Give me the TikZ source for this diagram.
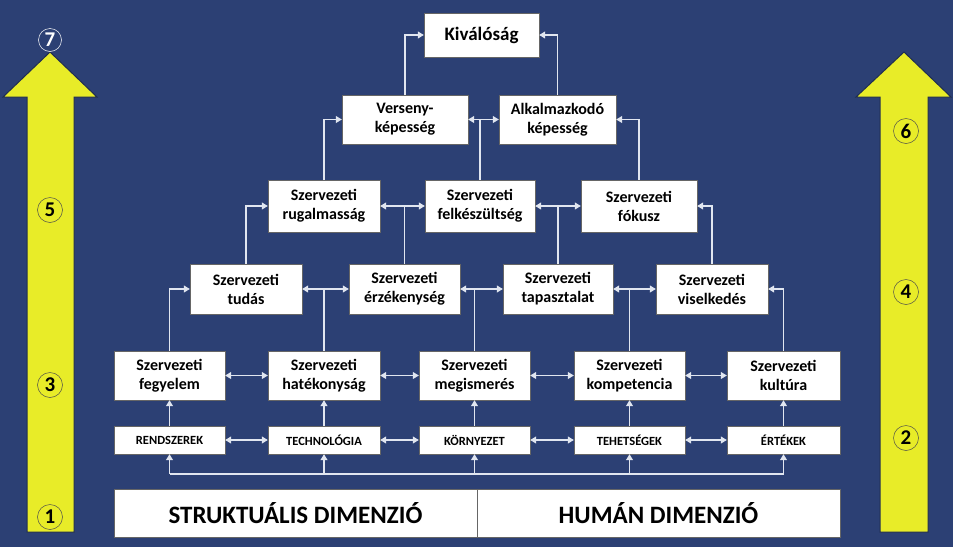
\documentclass[tikz,border=0pt]{standalone}
\usepackage{fontspec}
\setmainfont{Carlito}
\usetikzlibrary{arrows.meta}
\definecolor{bg}{RGB}{44,64,116}
\definecolor{yel}{RGB}{232,236,40}
\definecolor{ln}{RGB}{225,230,240}
\begin{document}
\begin{tikzpicture}[x=1pt,y=-1pt,
  bx/.style={draw=black!60,fill=white,font=\bfseries\fontsize{16}{19}\selectfont,align=center,inner sep=0pt,line width=0.4pt},
  sb/.style={draw=black!60,fill=white,font=\bfseries\fontsize{12.5}{14}\selectfont,inner sep=0pt,minimum height=28pt},
  cn/.style={line width=1.1pt,draw=ln},
  ar/.style={cn,-{Triangle[width=7pt,length=6pt]}},
  da/.style={cn,{Triangle[width=7pt,length=6pt]}-{Triangle[width=7pt,length=6pt]}},
  num/.style={circle,draw=black!70,line width=0.5pt,inner sep=1pt,minimum size=25pt,font=\bfseries\fontsize{21}{21}\selectfont}]
\fill[bg] (0,0) rectangle (953,547);
\useasboundingbox (0,0) rectangle (953,547);
% yellow arrows
\filldraw[fill=yel,draw=bg!70!black,line width=1pt] (27,532) -- (27,97) -- (3,97) -- (50,52) -- (97,97) -- (74,97) -- (74,532) -- cycle;
\filldraw[fill=yel,draw=bg!70!black,line width=1pt] (880,532) -- (880,97) -- (856,97) -- (904,52) -- (951,97) -- (928,97) -- (928,532) -- cycle;
\node[num,draw=white,text=white,minimum size=23pt] (n7) at (50,40) {7};
\node[num] (n5) at (50,210) {5};
\node[num] (n3) at (50,385) {3};
\node[num] (n1) at (50,517) {1};
\node[num] (n6) at (906,131) {6};
\node[num] (n4) at (906,292) {4};
\node[num] (n2) at (906,438) {2};
% boxes
\node[bx,minimum width=115pt,minimum height=44pt,font=\bfseries\fontsize{19}{21}\selectfont] (K) at (481.5,35) {Kiválóság};
\node[bx,minimum width=126pt,minimum height=49pt] (V) at (405,119.5) {Verseny-\\képesség};
\node[bx,minimum width=117pt,minimum height=49pt] (A) at (557.5,119.5) {Alkalmazkodó\\képesség};
\node[bx,minimum width=112pt,minimum height=52pt] (R) at (324,206) {Szervezeti\\rugalmasság};
\node[bx,minimum width=110pt,minimum height=52pt] (F) at (480,206) {Szervezeti\\felkészültség};
\node[bx,minimum width=116pt,minimum height=52pt] (Fo) at (639,206) {Szervezeti\\fókusz};
\node[bx,minimum width=112pt,minimum height=50pt] (Tu) at (246,289) {Szervezeti\\tudás};
\node[bx,minimum width=111pt,minimum height=50pt] (E) at (404.5,289) {Szervezeti\\érzékenység};
\node[bx,minimum width=110pt,minimum height=50pt] (Ta) at (558,289) {Szervezeti\\tapasztalat};
\node[bx,minimum width=112pt,minimum height=50pt] (Vi) at (712,289) {Szervezeti\\viselkedés};
\node[bx,minimum width=111pt,minimum height=49pt] (Fe) at (169.5,375.5) {Szervezeti\\fegyelem};
\node[bx,minimum width=112pt,minimum height=49pt] (H) at (324,375.5) {Szervezeti\\hatékonyság};
\node[bx,minimum width=111pt,minimum height=49pt] (M) at (474.5,375.5) {Szervezeti\\megismerés};
\node[bx,minimum width=111pt,minimum height=49pt] (Ko) at (629.5,375.5) {Szervezeti\\kompetencia};
\node[bx,minimum width=113pt,minimum height=49pt] (Ku) at (783.5,375.5) {Szervezeti\\kultúra};
\node[sb,minimum width=111pt] (s1) at (169.5,440) {RENDSZEREK};
\node[sb,minimum width=112pt] (s2) at (324,440) {TECHNOLÓGIA};
\node[sb,minimum width=111pt] (s3) at (474.5,440) {KÖRNYEZET};
\node[sb,minimum width=111pt] (s4) at (629.5,440) {TEHETSÉGEK};
\node[sb,minimum width=113pt] (s5) at (783.5,440) {ÉRTÉKEK};
\node[bx,minimum width=363pt,minimum height=48pt,font=\bfseries\fontsize{25}{27}\selectfont] (D1) at (295.5,513) {STRUKTUÁLIS DIMENZIÓ};
\node[bx,minimum width=363pt,minimum height=48pt,font=\bfseries\fontsize{25}{27}\selectfont] (D2) at (658.5,513) {HUMÁN DIMENZIÓ};
% elbows
\draw[ar] (V.north) |- (K.west);
\draw[ar] (A.north) |- (K.east);
\draw[ar] (R.north) |- (V.west);
\draw[ar] (Fo.north) |- (A.east);
\draw[ar] (Tu.north) |- (R.west);
\draw[ar] (Vi.north) |- (Fo.east);
\draw[ar] (Fe.north) |- (Tu.west);
\draw[ar] (Ku.north) |- (Vi.east);
% pairs
\draw[da] (V.east) -- (A.west);
\draw[da] (R.east) -- (F.west);
\draw[da] (F.east) -- (Fo.west);
\draw[da] (Tu.east) -- (E.west);
\draw[da] (E.east) -- (Ta.west);
\draw[da] (Ta.east) -- (Vi.west);
\draw[da] (Fe.east) -- (H.west);
\draw[da] (H.east) -- (M.west);
\draw[da] (M.east) -- (Ko.west);
\draw[da] (Ko.east) -- (Ku.west);
\draw[da] (s1.east) -- (s2.west);
\draw[da] (s2.east) -- (s3.west);
\draw[da] (s3.east) -- (s4.west);
\draw[da] (s4.east) -- (s5.west);
% risers
\draw[cn] (F.north) -- (F.north |- V.east);
\draw[cn] (E.north) -- (E.north |- R.east);
\draw[cn] (Ta.north) -- (Ta.north |- F.east);
\draw[cn] (H.north) -- (H.north |- Tu.east);
\draw[cn] (M.north) -- (M.north |- E.east);
\draw[cn] (Ko.north) -- (Ko.north |- Ta.east);
\foreach \a/\b in {s1/Fe,s2/H,s3/M,s4/Ko,s5/Ku} \draw[ar] (\a.north) -- (\b.south);
\coordinate (bus) at (0,474);
\draw[cn] (s1.south |- bus) -- (s5.south |- bus);
\foreach \a in {s1,s2,s3,s4,s5} \draw[ar] (\a.south |- bus) -- (\a.south);
\end{tikzpicture}
\end{document}
